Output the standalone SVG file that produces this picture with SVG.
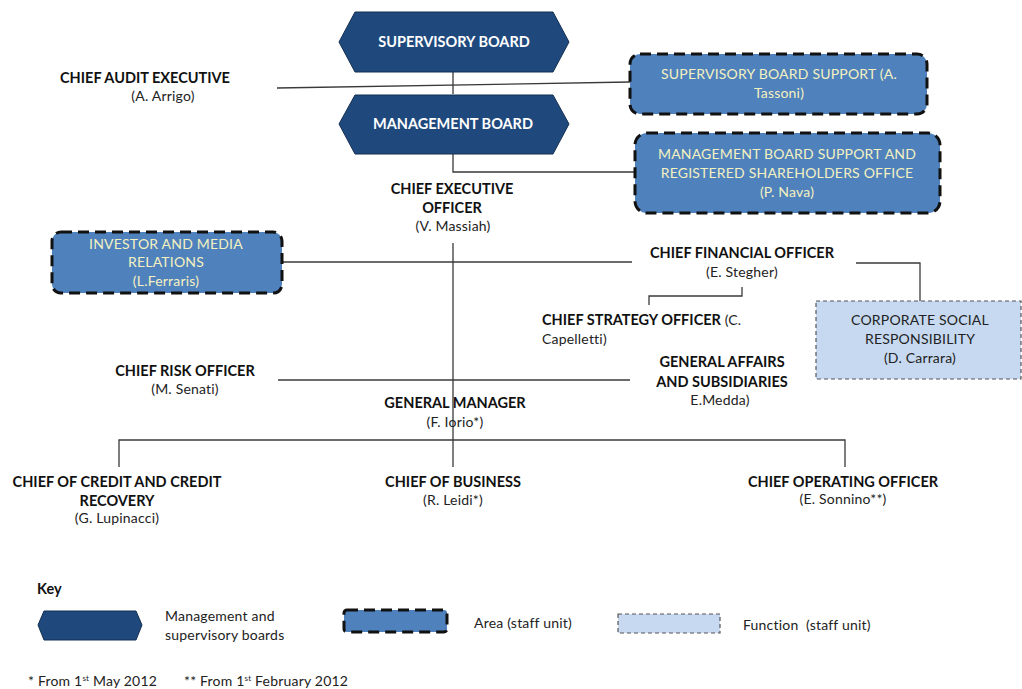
<svg xmlns="http://www.w3.org/2000/svg" width="1022" height="689" viewBox="0 0 1022 689">
<style>
.b{font-family:Lato,"Liberation Sans",sans-serif;font-weight:bold;font-size:14.5px;fill:#111}
.r{font-family:Lato,"Liberation Sans",sans-serif;font-size:14px;fill:#222;letter-spacing:0.2px}
.hx{fill:#1f497d;stroke:#142f52;stroke-width:1}
.hxt{font-family:Lato,"Liberation Sans",sans-serif;font-weight:bold;font-size:14.5px;fill:#fff}
.area{fill:#4f81bd;stroke:#111;stroke-width:3;stroke-dasharray:11 6}
.areat{font-family:Lato,"Liberation Sans",sans-serif;font-size:14px;fill:#f4f1c0;letter-spacing:0.2px}
.fn{fill:#c6d9f0;stroke:#555;stroke-width:1.2;stroke-dasharray:4 3}
.ln{fill:none;stroke:#3a3a3a;stroke-width:1.3}
.c{text-anchor:middle}
</style>
<g id="connectors">
<path class="ln" d="M453,72 V94"/>
<path class="ln" d="M277,88 L630,82"/>
<path class="ln" d="M453,154 V172 H636"/>
<path class="ln" d="M453,243 V467"/>
<path class="ln" d="M282,262 H632"/>
<path class="ln" d="M742,287 V296 H649 V305"/>
<path class="ln" d="M856,263 H920 V301"/>
<path class="ln" d="M278,380 H630"/>
<path class="ln" d="M119,467 V440 H845 V467"/>
</g>
<g id="supervisory-board">
<polygon class="hx" points="339,42 355,12 553,12 569,42 553,72 355,72"/>
<text class="hxt c" x="454" y="47">SUPERVISORY BOARD</text>
</g>
<g id="management-board">
<polygon class="hx" points="339,124 355,95 553,95 569,124 553,154 355,154"/>
<text class="hxt c" x="453" y="129">MANAGEMENT BOARD</text>
</g>
<g id="chief-audit-executive">
<text class="b c" x="145" y="83">CHIEF AUDIT EXECUTIVE</text>
<text class="r c" x="163" y="101">(A. Arrigo)</text>
</g>
<g id="supervisory-board-support">
<rect class="area" x="630" y="54" width="297" height="60" rx="10"/>
<text class="areat c" x="779" y="79">SUPERVISORY BOARD SUPPORT (A.</text>
<text class="areat c" x="779" y="98">Tassoni)</text>
</g>
<g id="management-board-support">
<rect class="area" x="635" y="133" width="305" height="80" rx="12"/>
<text class="areat c" x="787" y="159">MANAGEMENT BOARD SUPPORT AND</text>
<text class="areat c" x="787" y="178">REGISTERED SHAREHOLDERS OFFICE</text>
<text class="areat c" x="787" y="197">(P. Nava)</text>
</g>
<g id="ceo">
<text class="b c" x="452" y="194">CHIEF EXECUTIVE</text>
<text class="b c" x="452" y="213">OFFICER</text>
<text class="r c" x="453" y="231">(V. Massiah)</text>
</g>
<g id="investor-media-relations">
<rect class="area" x="52" y="232" width="230" height="61" rx="9"/>
<text class="areat c" x="166" y="249">INVESTOR AND MEDIA</text>
<text class="areat c" x="166" y="267">RELATIONS</text>
<text class="areat c" x="166" y="286">(L.Ferraris)</text>
</g>
<g id="cfo">
<text class="b c" x="742" y="258">CHIEF FINANCIAL OFFICER</text>
<text class="r c" x="742" y="277">(E. Stegher)</text>
</g>
<g id="cso">
<text x="542" y="325"><tspan class="b">CHIEF STRATEGY OFFICER</tspan><tspan class="r"> (C.</tspan></text>
<text class="r" x="542" y="344">Capelletti)</text>
</g>
<g id="csr">
<rect class="fn" x="816" y="301" width="205" height="78"/>
<text class="r c" x="920" y="325">CORPORATE SOCIAL</text>
<text class="r c" x="920" y="344">RESPONSIBILITY</text>
<text class="r c" x="920" y="363">(D. Carrara)</text>
</g>
<g id="general-affairs">
<text class="b c" x="722" y="367">GENERAL AFFAIRS</text>
<text class="b c" x="722" y="387">AND SUBSIDIARIES</text>
<text class="r c" x="720" y="405">E.Medda)</text>
</g>
<g id="cro">
<text class="b c" x="185" y="376">CHIEF RISK OFFICER</text>
<text class="r c" x="185" y="394">(M. Senati)</text>
</g>
<g id="general-manager">
<text class="b c" x="455" y="408">GENERAL MANAGER</text>
<text class="r c" x="455" y="427">(F. Iorio*)</text>
</g>
<g id="chief-credit">
<text class="b c" x="117" y="487">CHIEF OF CREDIT AND CREDIT</text>
<text class="b c" x="117" y="506">RECOVERY</text>
<text class="r c" x="117" y="523">(G. Lupinacci)</text>
</g>
<g id="chief-business">
<text class="b c" x="453" y="487">CHIEF OF BUSINESS</text>
<text class="r c" x="453" y="505">(R. Leidi*)</text>
</g>
<g id="coo">
<text class="b c" x="843" y="487">CHIEF OPERATING OFFICER</text>
<text class="r c" x="843" y="504">(E. Sonnino**)</text>
</g>
<g id="key">
<text class="b" x="37" y="594">Key</text>
<polygon class="hx" points="38,625 44,611 136,611 142,625 136,640 44,640"/>
<text class="r" x="165" y="621">Management and</text>
<text class="r" x="165" y="640">supervisory boards</text>
<rect class="area" x="344" y="610" width="103" height="22" rx="3"/>
<text class="r" x="474" y="628">Area (staff unit)</text>
<rect class="fn" x="618" y="614" width="102" height="19"/>
<text class="r" x="743" y="630" xml:space="preserve">Function  (staff unit)</text>
</g>
<g id="footnotes">
<text class="r" x="28" y="686">* From 1<tspan font-size="8" dy="-5">st</tspan><tspan dy="5"> May 2012</tspan></text>
<text class="r" x="184" y="686">** From 1<tspan font-size="8" dy="-5">st</tspan><tspan dy="5"> February 2012</tspan></text>
</g>
</svg>
